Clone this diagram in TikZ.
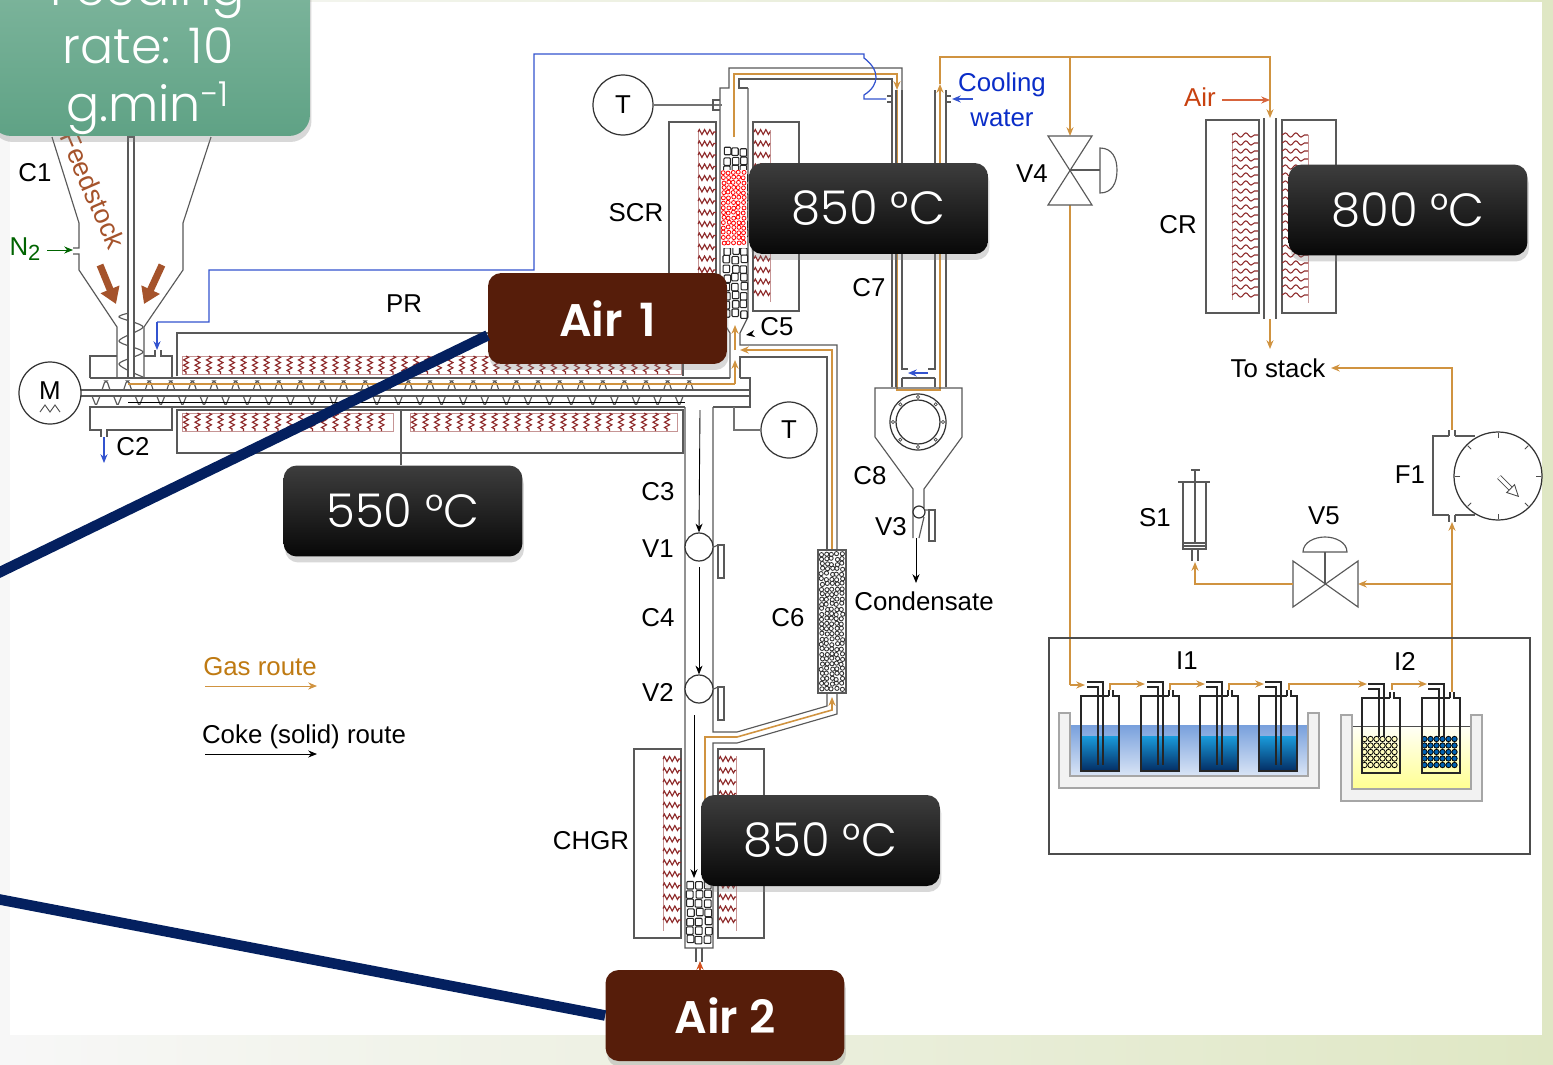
\documentclass[tikz,border=0pt]{standalone}
\usepackage{fontspec}
\setmainfont{Liberation Sans}
\newfontfamily\gothicfont{Poppins Light}
\newfontfamily\boldfont{Poppins SemiBold}
\usepackage{tikz}
\usetikzlibrary{arrows.meta, shadows, decorations.pathmorphing}

\definecolor{gasline}{HTML}{D09340}
\definecolor{gastext}{HTML}{BF7A12}
\definecolor{waterline}{HTML}{3353CF}
\definecolor{coilred}{HTML}{8E2A2A}
\definecolor{navyline}{HTML}{04205F}
\definecolor{brownbox}{HTML}{561D0A}
\definecolor{feedbrown}{HTML}{A5532B}

\begin{document}
\begin{tikzpicture}[
x=0.02cm, y=-0.02cm,
>={Stealth[length=5pt, width=4pt]},
lab/.style={inner sep=0pt, font=\fontsize{14.7}{18}\selectfont},
pipe/.style={draw=black!65, line width=0.65pt},
gas/.style={draw=gasline, line width=0.9pt},
water/.style={draw=waterline, line width=0.7pt},
coil/.style={draw=coilred, line width=0.65pt, decorate, decoration={zigzag, segment length=3pt, amplitude=1.4pt}},
wavecoil/.style={draw=coilred, line width=0.6pt, decorate, decoration={snake, segment length=6pt, amplitude=1.2pt}},
tempbox/.style={rounded corners=7.5pt, minimum width=4.78cm, minimum height=1.82cm, inner sep=0pt, top color=black!76, bottom color=black!97, text=white, font=\gothicfont\fontsize{26.5}{30}\selectfont, drop shadow={shadow xshift=0.03cm, shadow yshift=-0.12cm, opacity=0.3}},
airbox/.style={rounded corners=7.5pt, minimum width=4.78cm, minimum height=1.82cm, inner sep=0pt, fill=brownbox, text=white, font=\boldfont\fontsize{26}{30}\selectfont, drop shadow={shadow xshift=0.03cm, shadow yshift=-0.12cm, opacity=0.3}},
roundnode/.style={circle, draw=black!80, line width=0.7pt, fill=white, inner sep=0pt},
tray/.style={draw=black!35, line width=0.8pt, fill=black!5},
navy/.style={draw=navyline, line width=6pt}
]

\useasboundingbox (0,0) rectangle (1553,1065);
\shade[left color=black!3!white, right color={rgb,255:red,223;green,231;blue,196}] (0,0) rectangle (1553,1065);
\fill[white] (10,2) rectangle (1542,1035);

\draw[pipe] (52,137) -- (79,223) -- (79,248) -- (73,248) (73,254) -- (79,254) -- (79,270) -- (117,327) -- (117,378);
\draw[pipe] (211,137) -- (183,223) -- (183,270) -- (144,327) -- (144,378);
\draw[pipe, smooth] plot coordinates {(134,312) (119,317) (143,327) (119,341) (143,352) (119,364) (143,377)};
\draw[pipe, fill=white] (128,137) rectangle (134,378);
\draw[pipe] (90,378) -- (90,356) -- (117,356);
\draw[pipe] (144,356) -- (155,356) -- (155,350) (161,350) -- (161,356) -- (172,356) -- (172,378);
\draw[pipe] (90,378) -- (730,378) (740,378) -- (750,378) -- (750,407) -- (713,407) (685,407) -- (90,407) -- (90,430) -- (101,430) -- (101,437) (107,437) -- (107,430) -- (172,430) -- (172,407);
\draw[pipe] (79,390) -- (750,390) (79,396) -- (750,396);
\foreach \s in {0,...,27} {
\draw[pipe, rounded corners=1pt] (106+21.6*\s-4,390) -- (106+21.6*\s-1,381) -- (106+21.6*\s+1,381) -- (106+21.6*\s+4,390);
\draw[pipe, rounded corners=1pt] (96+21.6*\s-4,396) -- (96+21.6*\s,406) -- (96+21.6*\s+4,396);
}
\draw[black, line width=0.5pt] (128,402) -- (685,402);

\node[roundnode, minimum size=62*0.02cm] at (50,393) (motor) {};
\node[lab] at (50,391) (motorlab) {M};
\draw[black!70, line width=0.5pt] (40,412) -- (45,405) -- (50,412) -- (55,405) -- (60,412);

\draw[pipe] (177,376) -- (177,333) -- (683,333) -- (683,376);
\draw[pipe] (177,410) -- (683,410) -- (683,453) -- (177,453) -- cycle;
\draw[draw=coilred!50, line width=0.5pt] (182,356) rectangle (681,374);
\foreach \x in {186,197.5,...,680} {\draw[coil] (\x,356) -- (\x,374);}
\draw[draw=coilred!50, line width=0.5pt] (182,413) rectangle (393,431) (410,413) rectangle (677,431);
\foreach \x in {186,197.5,...,390} {\draw[coil] (\x,413) -- (\x,431);}
\foreach \x in {414,425.5,...,675} {\draw[coil] (\x,413) -- (\x,431);}

\draw[pipe] (669,122) rectangle (716,312);
\draw[pipe] (753,122) rectangle (799,311);
\draw[draw=coilred!50, line width=0.5pt] (698,130) -- (698,305);
\draw[draw=coilred!50, line width=0.5pt] (770,130) -- (770,302);
\foreach \y in {132,143.5,...,302} {\draw[coil] (698,\y) -- (716,\y); \draw[coil] (754,\y) -- (770,\y);}

\draw[pipe] (730,378) -- (730,333) -- (720,317) -- (720,88) -- (729,88) -- (729,68) -- (902,68) -- (902,90);
\draw[pipe] (740,378) -- (740,357) -- (827,357) -- (827,550);
\draw[pipe] (748,88) -- (739,88) -- (739,79) -- (892,79) -- (892,90);
\draw[pipe] (748,88) -- (748,317) -- (740,333) -- (740,345) -- (837,345) -- (837,550);

\pgfmathsetseed{7}
\foreach \y in {147,156,...,312} {\foreach \x in {723,731.5,740} {
\pgfmathsetmacro{\jx}{rnd*1.5}
\pgfmathsetmacro{\jy}{rnd*2}
\draw[black!85, line width=0.6pt, rounded corners=0.5pt, fill=white] (\x+\jx,\y+\jy) rectangle ++(6.5,7.5);
}}
\fill[white] (722,170) rectangle (747,248);
\foreach \y in {172,177,...,244} {\foreach \x in {723,728,...,744} {
\pgfmathsetmacro{\jx}{rnd*1.2}
\pgfmathsetmacro{\jy}{rnd*1.2}
\draw[red, line width=0.45pt] (\x+\jx,\y+\jy) circle (2);
}}

\draw[gas, ->] (734,137) -- (734,74) -- (897,74) -- (897,90);
\draw[gas] (897,90) -- (897,390) -- (940,390) -- (940,90);
\draw[gas, ->] (940,90) -- (940,84);
\draw[gas] (940,84) -- (940,57) -- (1270,57) -- (1270,100);
\draw[gas, ->] (1270,100) -- (1270,118);
\draw[gas, ->] (1070,57) -- (1070,136);
\draw[gas] (1070,205) -- (1070,685);
\draw[gas, ->] (1070,685) -- (1085,685);
\draw[gas] (128,384) -- (735,384);
\draw[gas, ->] (735,384) -- (735,360);
\draw[gas, ->] (735,350) -- (735,325);
\draw[gas, ->] (832,550) -- (832,350) -- (740,350);

\draw[pipe] (892,90) -- (892,387) (896,90) -- (896,387) (902,90) -- (902,369) -- (935,369) -- (935,90);
\draw[pipe] (946,90) -- (946,387) (902,378) -- (935,378) (902,378) -- (902,387) (935,378) -- (935,387);
\draw[pipe] (887,96) -- (892,96) (887,102) -- (892,102) (946,96) -- (951,96) (946,102) -- (951,102);
\draw[pipe] (875,437) -- (875,388) -- (962,388) -- (962,437) -- (924,489) -- (924,508) (875,437) -- (913,489) -- (913,538);
\fill[white] (908,366) rectangle (928,376);
\draw[water, ->] (928,373) -- (908,373);

\node[roundnode, minimum size=56*0.02cm] at (918,422) (cyclone) {};
\node[roundnode, minimum size=44*0.02cm] at (918,422) (cyclonein) {};
\foreach \a in {0,45,...,315} {\draw[black!70, line width=0.4pt, fill=white] ([shift={(\a:25)}]cyclone.center) circle (1.6);}

\node[roundnode, minimum size=12*0.02cm] at (919,512) (valvec) {};
\draw[pipe, fill=white] (929,510) rectangle (935,541);
\draw[pipe] (925,510) -- (929,510) (924,517) -- (919,538);
\node[lab] at (924,601) (condensate) {Condensate};
\draw[black, line width=0.5pt, ->] (916,538) -- (916,583);

\node[roundnode, minimum size=60*0.02cm] at (623,105) (tempa) {};
\node[lab] at (623,105) (tempalab) {T};
\draw[pipe, draw=black!55] (tempa.east) -- (722,105);
\draw[pipe] (720,100) -- (713,100) -- (713,110) -- (720,110);
\node[roundnode, minimum size=56*0.02cm] at (789,430) (tempb) {};
\node[lab] at (789,430) (tempblab) {T};
\draw[pipe, draw=black!55] (tempb.west) -- (734,430) -- (734,407);

\draw[pipe] (685,407) -- (685,948) -- (713,948) -- (713,743) -- (737,743) -- (837,714) -- (837,693);
\draw[pipe] (713,407) -- (713,732) -- (737,732) -- (827,706) -- (827,693);
\draw[gas, ->] (705,880) -- (705,737) -- (737,737) -- (832,710) -- (832,697);

\node[roundnode, minimum size=28*0.02cm] at (699,547) (valvea) {};
\node[roundnode, minimum size=28*0.02cm] at (699,689) (valveb) {};
\draw[pipe, fill=white] (718,545) rectangle (724,578);
\draw[pipe, fill=white] (718,687) rectangle (724,720);
\draw[pipe] (valvea.east) -- (718,545) (valveb.east) -- (718,687);
\draw[black, line width=0.5pt, ->] (700,410) -- (valvea.north);
\draw[black, line width=0.5pt, ->] (699,567) -- (valveb.north);
\draw[black, line width=0.5pt, ->] (694,715) -- (694,878);

\draw[pipe, fill=white] (818,550) rectangle (846,693);
\foreach \y in {553,558,...,688} {\foreach \x in {821,826,...,841} {
\pgfmathsetmacro{\jx}{rnd*1.8}
\pgfmathsetmacro{\jy}{rnd*1.8}
\draw[black!80, line width=0.5pt] (\x+\jx,\y+\jy) circle (2.1);
}}

\draw[pipe] (634,749) rectangle (681,938);
\draw[pipe] (718,749) rectangle (764,938);
\draw[draw=coilred!50, line width=0.5pt] (663,756) -- (663,931) (736,756) -- (736,931);
\foreach \y in {759,770.5,...,930} {\draw[coil] (663,\y) -- (681,\y); \draw[coil] (719,\y) -- (736,\y);}
\foreach \y in {881,890,...,938} {\foreach \x in {686,695,704} {
\pgfmathsetmacro{\jx}{rnd*1.5}
\pgfmathsetmacro{\jy}{rnd*1.5}
\draw[black!85, line width=0.6pt, rounded corners=0.5pt, fill=white] (\x+\jx,\y+\jy) rectangle ++(6.8,7.5);
}}
\draw[pipe] (696,948) -- (696,962) (702,948) -- (702,962);

\draw[pipe, fill=white] (1048,136) -- (1092,136) -- (1048,205) -- (1092,205) -- cycle;
\draw[pipe] (1070,170) -- (1100,170);
\draw[pipe] (1100,148) .. controls (1112,148) and (1117,158) .. (1117,170) .. controls (1117,183) and (1112,193) .. (1100,193) -- cycle;

\draw[pipe] (1206,120) rectangle (1259,313);
\draw[pipe] (1282,120) rectangle (1336,313);
\draw[pipe] (1264,118) -- (1264,319) (1276,118) -- (1276,319);
\draw[draw=coilred!50, line width=0.5pt] (1232,133) -- (1232,300) (1308,135) -- (1308,303);
\foreach \y in {135,143,...,300} {\draw[wavecoil] (1232,\y) -- (1258,\y); \draw[wavecoil] (1282,\y) -- (1308,\y);}
\draw[gas, ->] (1270,319) -- (1270,349);

\node[lab] at (1278,368) (tostack) {To stack};
\draw[gas, ->] (1452,430) -- (1452,368) -- (1331,368);
\draw[pipe] (1449,436) -- (1433,436) -- (1433,515) -- (1449,515) (1455,436) -- (1475,436) (1455,515) -- (1475,515);
\draw[pipe] (1449,436) -- (1449,430) (1455,436) -- (1455,430) (1449,515) -- (1449,522) (1455,515) -- (1455,522);
\node[roundnode, minimum size=88*0.02cm] at (1498,476) (dial) {};
\foreach \a in {0,45,...,315} {\draw[black!70, line width=0.5pt] ([shift={(\a:38)}]dial.center) -- ([shift={(\a:43)}]dial.center);}
\draw[-{Triangle[open, fill=white, length=7pt, width=7pt]}, draw=black!70, line width=0.5pt, double=white, double distance=2pt] (1499,477) -- (1519,497);

\draw[gas, ->] (1452,692) -- (1452,522);
\draw[gas, ->] (1452,584) -- (1358,584);
\draw[pipe, fill=white] (1293,561) -- (1358,607) -- (1358,561) -- (1293,607) -- cycle;
\draw[pipe] (1325,584) -- (1325,552);
\draw[pipe] (1303,552) .. controls (1303,542) and (1315,537) .. (1325,537) .. controls (1335,537) and (1347,542) .. (1347,552) -- cycle;
\draw[gas, ->] (1293,584) -- (1195,584) -- (1195,562);

\draw[pipe] (1183,482) -- (1183,549) -- (1206,549) -- (1206,482) (1178,482) -- (1210,482) (1195,470) -- (1195,543) (1191,470) -- (1200,470) (1183,543) -- (1206,543) (1183,546) -- (1206,546) (1192,549) -- (1192,561) (1198,549) -- (1198,561);

\draw[draw=black!70, line width=0.8pt] (1049,638) rectangle (1530,854);

\shade[top color={rgb,255:red,120;green,160;blue,220}, bottom color={rgb,255:red,218;green,229;blue,246}] (1070,725) rectangle (1308,776);
\draw[tray] (1059,713) -- (1070,713) -- (1070,776) -- (1308,776) -- (1308,713) -- (1319,713) -- (1319,788) -- (1059,788) -- cycle;
\shade[top color=yellow!3, bottom color={rgb,255:red,255;green,255;blue,145}] (1352,726) rectangle (1471,789);
\draw[black!70, line width=0.5pt] (1352,726) -- (1471,726);
\draw[tray] (1341,715) -- (1352,715) -- (1352,789) -- (1471,789) -- (1471,715) -- (1482,715) -- (1482,801) -- (1341,801) -- cycle;

\foreach \bx in {1081,1141,1200,1259} {
\shade[top color={rgb,255:red,26;green,156;blue,220}, bottom color={rgb,255:red,3;green,45;blue,100}] (\bx,736) rectangle (\bx+38,771);
}
\foreach \bx/\bead in {1362/yellow!25,1422/blue!45!cyan!70!black} {
\foreach \y in {739,745.5,...,770} {\foreach \x in {2.5,8.5,...,36} {
\draw[black, line width=0.45pt, fill=\bead] (\bx+\x,\y) circle (2.7);
}}
}
\foreach \bx/\by/\be in {1081/696/765,1141/696/765,1200/696/765,1259/696/765,1362/698/737,1422/698/737} {
\draw[black!85, line width=0.7pt] (\bx+28,\by) -- (\bx,\by) -- (\bx,\by+75) -- (\bx+38,\by+75) -- (\bx+38,\by) -- (\bx+32,\by) -- (\bx+32,\by-6);
\draw[black!85, line width=0.7pt] (\bx+28,\by) -- (\bx+28,\by-6);
\draw[black!85, line width=0.7pt] (\bx+6,\by-14) -- (\bx+22,\by-14) -- (\bx+22,\be);
\draw[black!85, line width=0.7pt] (\bx+6,\by-9) -- (\bx+17,\by-9) -- (\bx+17,\be);
}
\foreach \sx/\ex in {1110/1145,1170/1205,1229/1264,1289/1367,1392/1427} {
\draw[gas, ->] (\sx,690) -- (\sx,684) -- (\ex,684);
}

\node[lab] at (35,173) (labcone) {C1};
\node[lab, text={rgb,255:red,0;green,100;blue,0}] at (25,249) (nitrogen) {N\raisebox{-3pt}{\fontsize{12.5}{14}\selectfont 2}};
\draw[draw={rgb,255:red,0;green,100;blue,0}, line width=0.5pt, ->] (47,250) -- (73,250);
\node[lab] at (133,447) (labctwo) {C2};
\draw[water, ->] (104,437) -- (104,463);
\node[lab] at (404,304) (labpr) {PR};
\node[lab] at (636,213) (labscr) {SCR};
\node[lab] at (777,327) (labcfive) {C5};
\draw[black, line width=0.4pt, ->] (752,334) -- (746,335);
\node[lab] at (869,288) (labcseven) {C7};
\node[lab] at (870,476) (labceight) {C8};
\node[lab] at (891,527) (labvthree) {V3};
\node[lab] at (658,492) (labcthree) {C3};
\node[lab] at (658,549) (labvone) {V1};
\node[lab] at (658,618) (labcfour) {C4};
\node[lab] at (658,692) (labvtwo) {V2};
\node[lab] at (788,618) (labcsix) {C6};
\node[lab] at (591,841) (labchgr) {CHGR};
\node[lab] at (1032,174) (labvfour) {V4};
\node[lab] at (1178,225) (labcr) {CR};
\node[lab] at (1410,475) (labfone) {F1};
\node[lab] at (1155,518) (labsone) {S1};
\node[lab] at (1324,516) (labvfive) {V5};
\node[lab] at (1187,661) (labione) {I1};
\node[lab] at (1405,661) (labitwo) {I2};

\node[lab, text={rgb,255:red,10;green,45;blue,200}, align=center] at (1002,100) (cooling) {Cooling\\[2pt]water};
\draw[water, ->] (973,99) -- (952,99);
\node[lab, text={rgb,255:red,200;green,65;blue,15}] at (1200,97) (airlab) {Air};
\draw[draw={rgb,255:red,215;green,100;blue,60}, line width=0.7pt, ->] (1222,100) -- (1270,100);

\node[lab, text=gastext] at (260,667) (gaslab) {Gas route};
\draw[gas, line width=0.5pt, ->] (205,686) -- (317,686);
\node[lab] at (304,737) (cokelab) {Coke (solid) route};
\draw[black, line width=0.5pt, ->] (205,754) -- (317,754);

\draw[water] (157,322) -- (209,322) -- (209,270) -- (534,270) -- (534,54) -- (864,54) -- (864,58) .. controls (880,70) and (880,85) .. (864,95) -- (864,99) -- (886,99);
\draw[water, ->] (157,322) -- (157,350);
\draw[draw={rgb,255:red,210;green,80;blue,30}, line width=0.6pt, ->] (700,970) -- (700,961);

\node[rotate=-66.5, text=feedbrown, inner sep=0pt, font=\fontsize{15.3}{18}\selectfont] at (93,190) (feedlab) {Feedstock};
\draw[draw=feedbrown, line width=4pt, -{Triangle[length=9pt, width=11pt]}] (100,265) -- (116,304);
\draw[draw=feedbrown, line width=4pt, -{Triangle[length=9pt, width=11pt]}] (162,265) -- (144,304);

\node[rounded corners=12pt, minimum width=6.4cm, minimum height=3.56cm, inner sep=0pt, top color={rgb,255:red,130;green,184;blue,160}, bottom color={rgb,255:red,95;green,162;blue,133}, drop shadow={shadow xshift=0.03cm, shadow yshift=-0.12cm, opacity=0.3}] at (150,47) (feedbox) {};
\node[text=white, inner sep=0pt, align=center, font=\gothicfont\fontsize{28}{33}\selectfont] at (148,52) (feedtext) {Feeding\\rate: 10\\g.min\textsuperscript{-1}};

\node[tempbox] at (868.5,208.5) (scrtemp) {850 °C};
\node[tempbox] at (1408,210) (crtemp) {800 °C};
\node[tempbox] at (403,511) (prtemp) {550 °C};
\node[tempbox] at (820.5,840.5) (chgrtemp) {850 °C};
\draw[pipe] (401,410) -- (prtemp.north -| 401,466);
\node[airbox] at (607.5,318.5) (airone) {Air\kern3pt{} 1};
\node[airbox] at (725,1015.5) (airtwo) {Air 2};

\coordinate (leftone) at (-8,576);
\coordinate (lefttwo) at (-8,898);
\draw[navy] (leftone) -- (airone.188);
\draw[navy] (lefttwo) -- (airtwo.west);
\end{tikzpicture}
\end{document}
